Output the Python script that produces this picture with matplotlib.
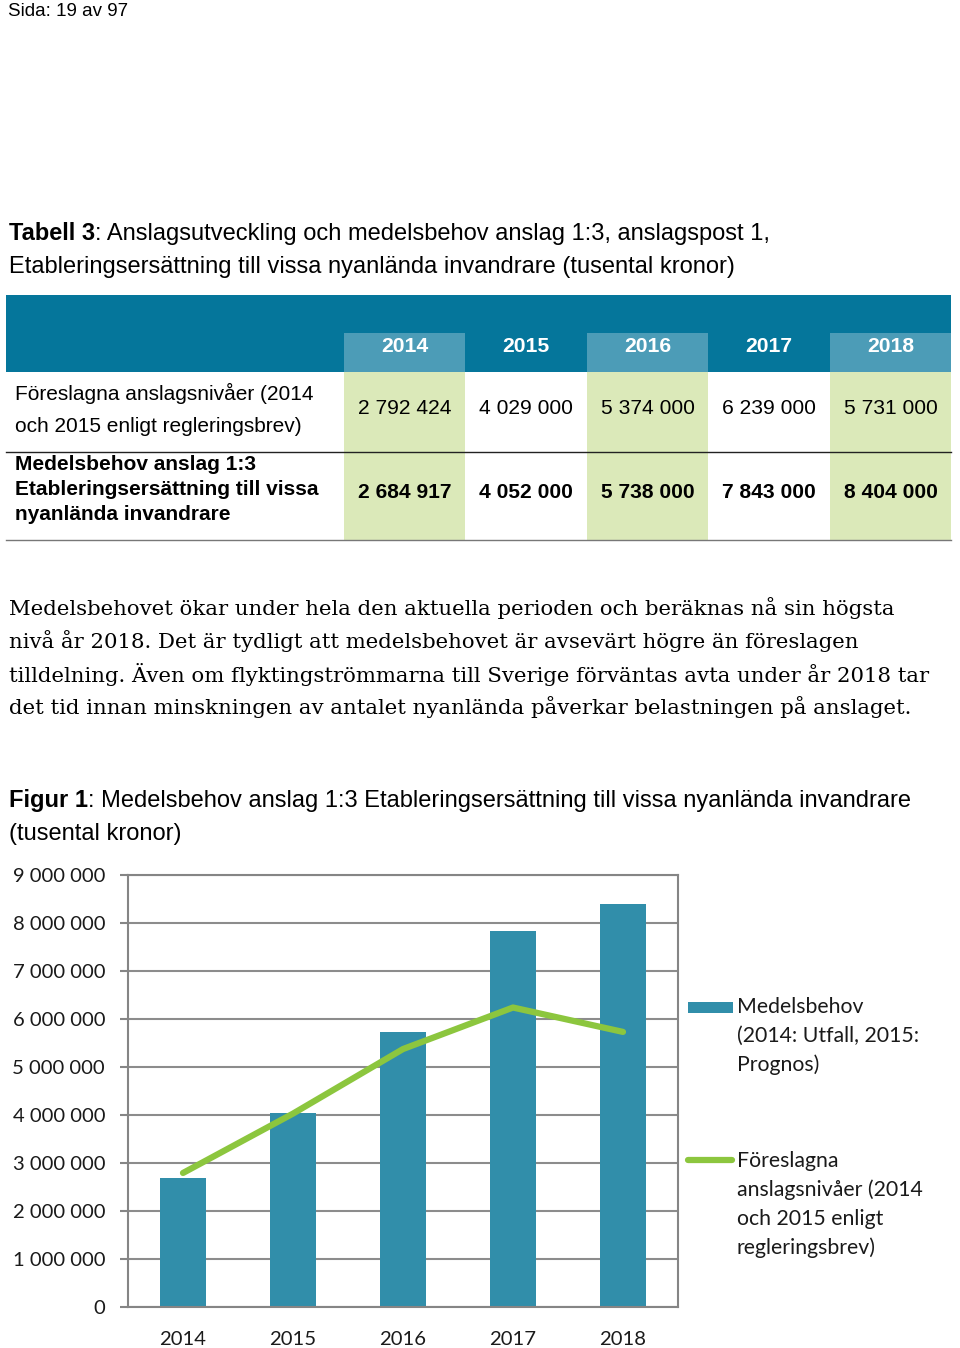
import matplotlib
matplotlib.use('Agg')
import matplotlib.pyplot as plt
from matplotlib.patches import Rectangle
import numpy as np

# data
years = ['2014', '2015', '2016', '2017', '2018']
foreslagna = [2792424, 4029000, 5374000, 6239000, 5731000]
medelsbehov = [2684917, 4052000, 5738000, 7843000, 8404000]
yticks = [0, 1000000, 2000000, 3000000, 4000000, 5000000, 6000000, 7000000, 8000000, 9000000]

row1_label = ['Föreslagna anslagsnivåer (2014', 'och 2015 enligt regleringsbrev)']
row2_label = ['Medelsbehov anslag 1:3', 'Etableringsersättning till vissa', 'nyanlända invandrare']
legend_bar = ['Medelsbehov', '(2014: Utfall, 2015:', 'Prognos)']
legend_line = ['Föreslagna', 'anslagsnivåer (2014', 'och 2015 enligt', 'regleringsbrev)']

title_bold = 'Tabell 3'
title_rest = [': Anslagsutveckling och medelsbehov anslag 1:3, anslagspost 1,',
              'Etableringsersättning till vissa nyanlända invandrare (tusental kronor)']
fig_bold = 'Figur 1'
fig_rest = [': Medelsbehov anslag 1:3 Etableringsersättning till vissa nyanlända invandrare',
            '(tusental kronor)']
paragraph = ['Medelsbehovet ökar under hela den aktuella perioden och beräknas nå sin högsta',
             'nivå år 2018. Det är tydligt att medelsbehovet är avsevärt högre än föreslagen',
             'tilldelning. Även om flyktingströmmarna till Sverige förväntas avta under år 2018 tar',
             'det tid innan minskningen av antalet nyanlända påverkar belastningen på anslaget.']

BAR = '#318eaa'
GREEN = '#8cc63e'
HEAD = '#05769b'
HEAD_L = '#4c9cb7'
CELL = '#dbe9b9'
GRID = '#8c8c8c'


def fmt(v):
    return f'{v:,}'.replace(',', ' ')


fig = plt.figure(figsize=(9.6, 13.48), dpi=100)
page = fig.add_axes([0, 0, 1, 1])
page.set_xlim(0, 960)
page.set_ylim(1348, 0)
page.axis('off')
renderer = fig.canvas.get_renderer()

sans = 'Liberation Sans'
page.text(8, 11, 'Sida: 19 av 97', fontsize=13.5, family=sans, va='center')


# bold word followed by regular text on the same line
def mixed(x, y, bold, rest, size):
    t = page.text(x, y, bold, fontsize=size, family=sans, weight='bold', va='center')
    bb = t.get_window_extent(renderer)
    x2 = page.transData.inverted().transform((bb.x1, 0))[0]
    page.text(x2, y, rest, fontsize=size, family=sans, va='center')


mixed(9, 234, title_bold, title_rest[0], 17)
page.text(9, 267, title_rest[1], fontsize=17, family=sans, va='center')

# table
edges = [344, 465, 587, 708, 830, 951]
page.add_patch(Rectangle((6, 295), 945, 77, color=HEAD, lw=0))
for i in range(5):
    w = edges[i + 1] - edges[i]
    if i % 2 == 0:
        page.add_patch(Rectangle((edges[i], 333), w, 39, color=HEAD_L, lw=0))
        page.add_patch(Rectangle((edges[i], 372), w, 168, color=CELL, lw=0))
    cx = (edges[i] + edges[i + 1]) / 2
    page.text(cx, 346, years[i], color='white', weight='bold', fontsize=15.2,
              family=sans, ha='center', va='center')
    page.text(cx, 409, fmt(foreslagna[i]), fontsize=15.1, family=sans,
              ha='center', va='center')
    page.text(cx, 493, fmt(medelsbehov[i]), fontsize=15.1, family=sans, weight='bold',
              ha='center', va='center')
page.plot([6, 951], [452, 452], color='#222222', lw=1)
page.plot([6, 951], [540, 540], color='#777777', lw=1)
for k, s in enumerate(row1_label):
    page.text(15, 393 + 33 * k, s, fontsize=15, family=sans, va='center')
for k, s in enumerate(row2_label):
    page.text(15, 465 + 24.5 * k, s, fontsize=15, family=sans, weight='bold', va='center')

# paragraph
for k, s in enumerate(paragraph):
    page.text(9, 608 + 33 * k, s, fontsize=15.3, family='DejaVu Serif', va='center')

mixed(9, 801, fig_bold, fig_rest[0], 17)
page.text(9, 834, fig_rest[1], fontsize=17, family=sans, va='center')

# chart
ax = fig.add_axes([128 / 960, 41 / 1348, 550 / 960, 432 / 1348])
x = np.arange(len(years))
ax.bar(x, medelsbehov, width=0.41, color=BAR, zorder=2)
ax.plot(x, foreslagna, color=GREEN, lw=4.5, solid_capstyle='round', zorder=3)
ax.set_xlim(-0.5, 4.5)
ax.set_ylim(0, 9000000)
ax.set_yticks(yticks)
ax.set_yticklabels([fmt(v) for v in yticks])
ax.set_xticks(x)
ax.set_xticklabels(years)
ax.grid(axis='y', color=GRID, lw=1.5)
ax.set_axisbelow(True)
for sp in ax.spines.values():
    sp.set_color('#858585')
    sp.set_linewidth(1.5)
ax.tick_params(axis='y', length=6, width=1.5, color='#858585', pad=10.5, labelsize=14.6)
ax.tick_params(axis='x', length=0, pad=17, labelsize=14.6)
for lab in ax.get_xticklabels() + ax.get_yticklabels():
    lab.set_family('Lato')
    lab.set_color('#1a1a1a')

# legend
page.add_patch(Rectangle((688, 1002), 45, 11, color=BAR, lw=0))
page.plot([688, 732], [1160, 1160], color=GREEN, lw=4.5, solid_capstyle='round')
for k, s in enumerate(legend_bar):
    page.text(737, 1007 + 29 * k, s, fontsize=15.3, family='Lato', color='#1a1a1a', va='center')
for k, s in enumerate(legend_line):
    page.text(737, 1161 + 29 * k, s, fontsize=15.3, family='Lato', color='#1a1a1a', va='center')

fig.savefig('out.png', dpi=100)
